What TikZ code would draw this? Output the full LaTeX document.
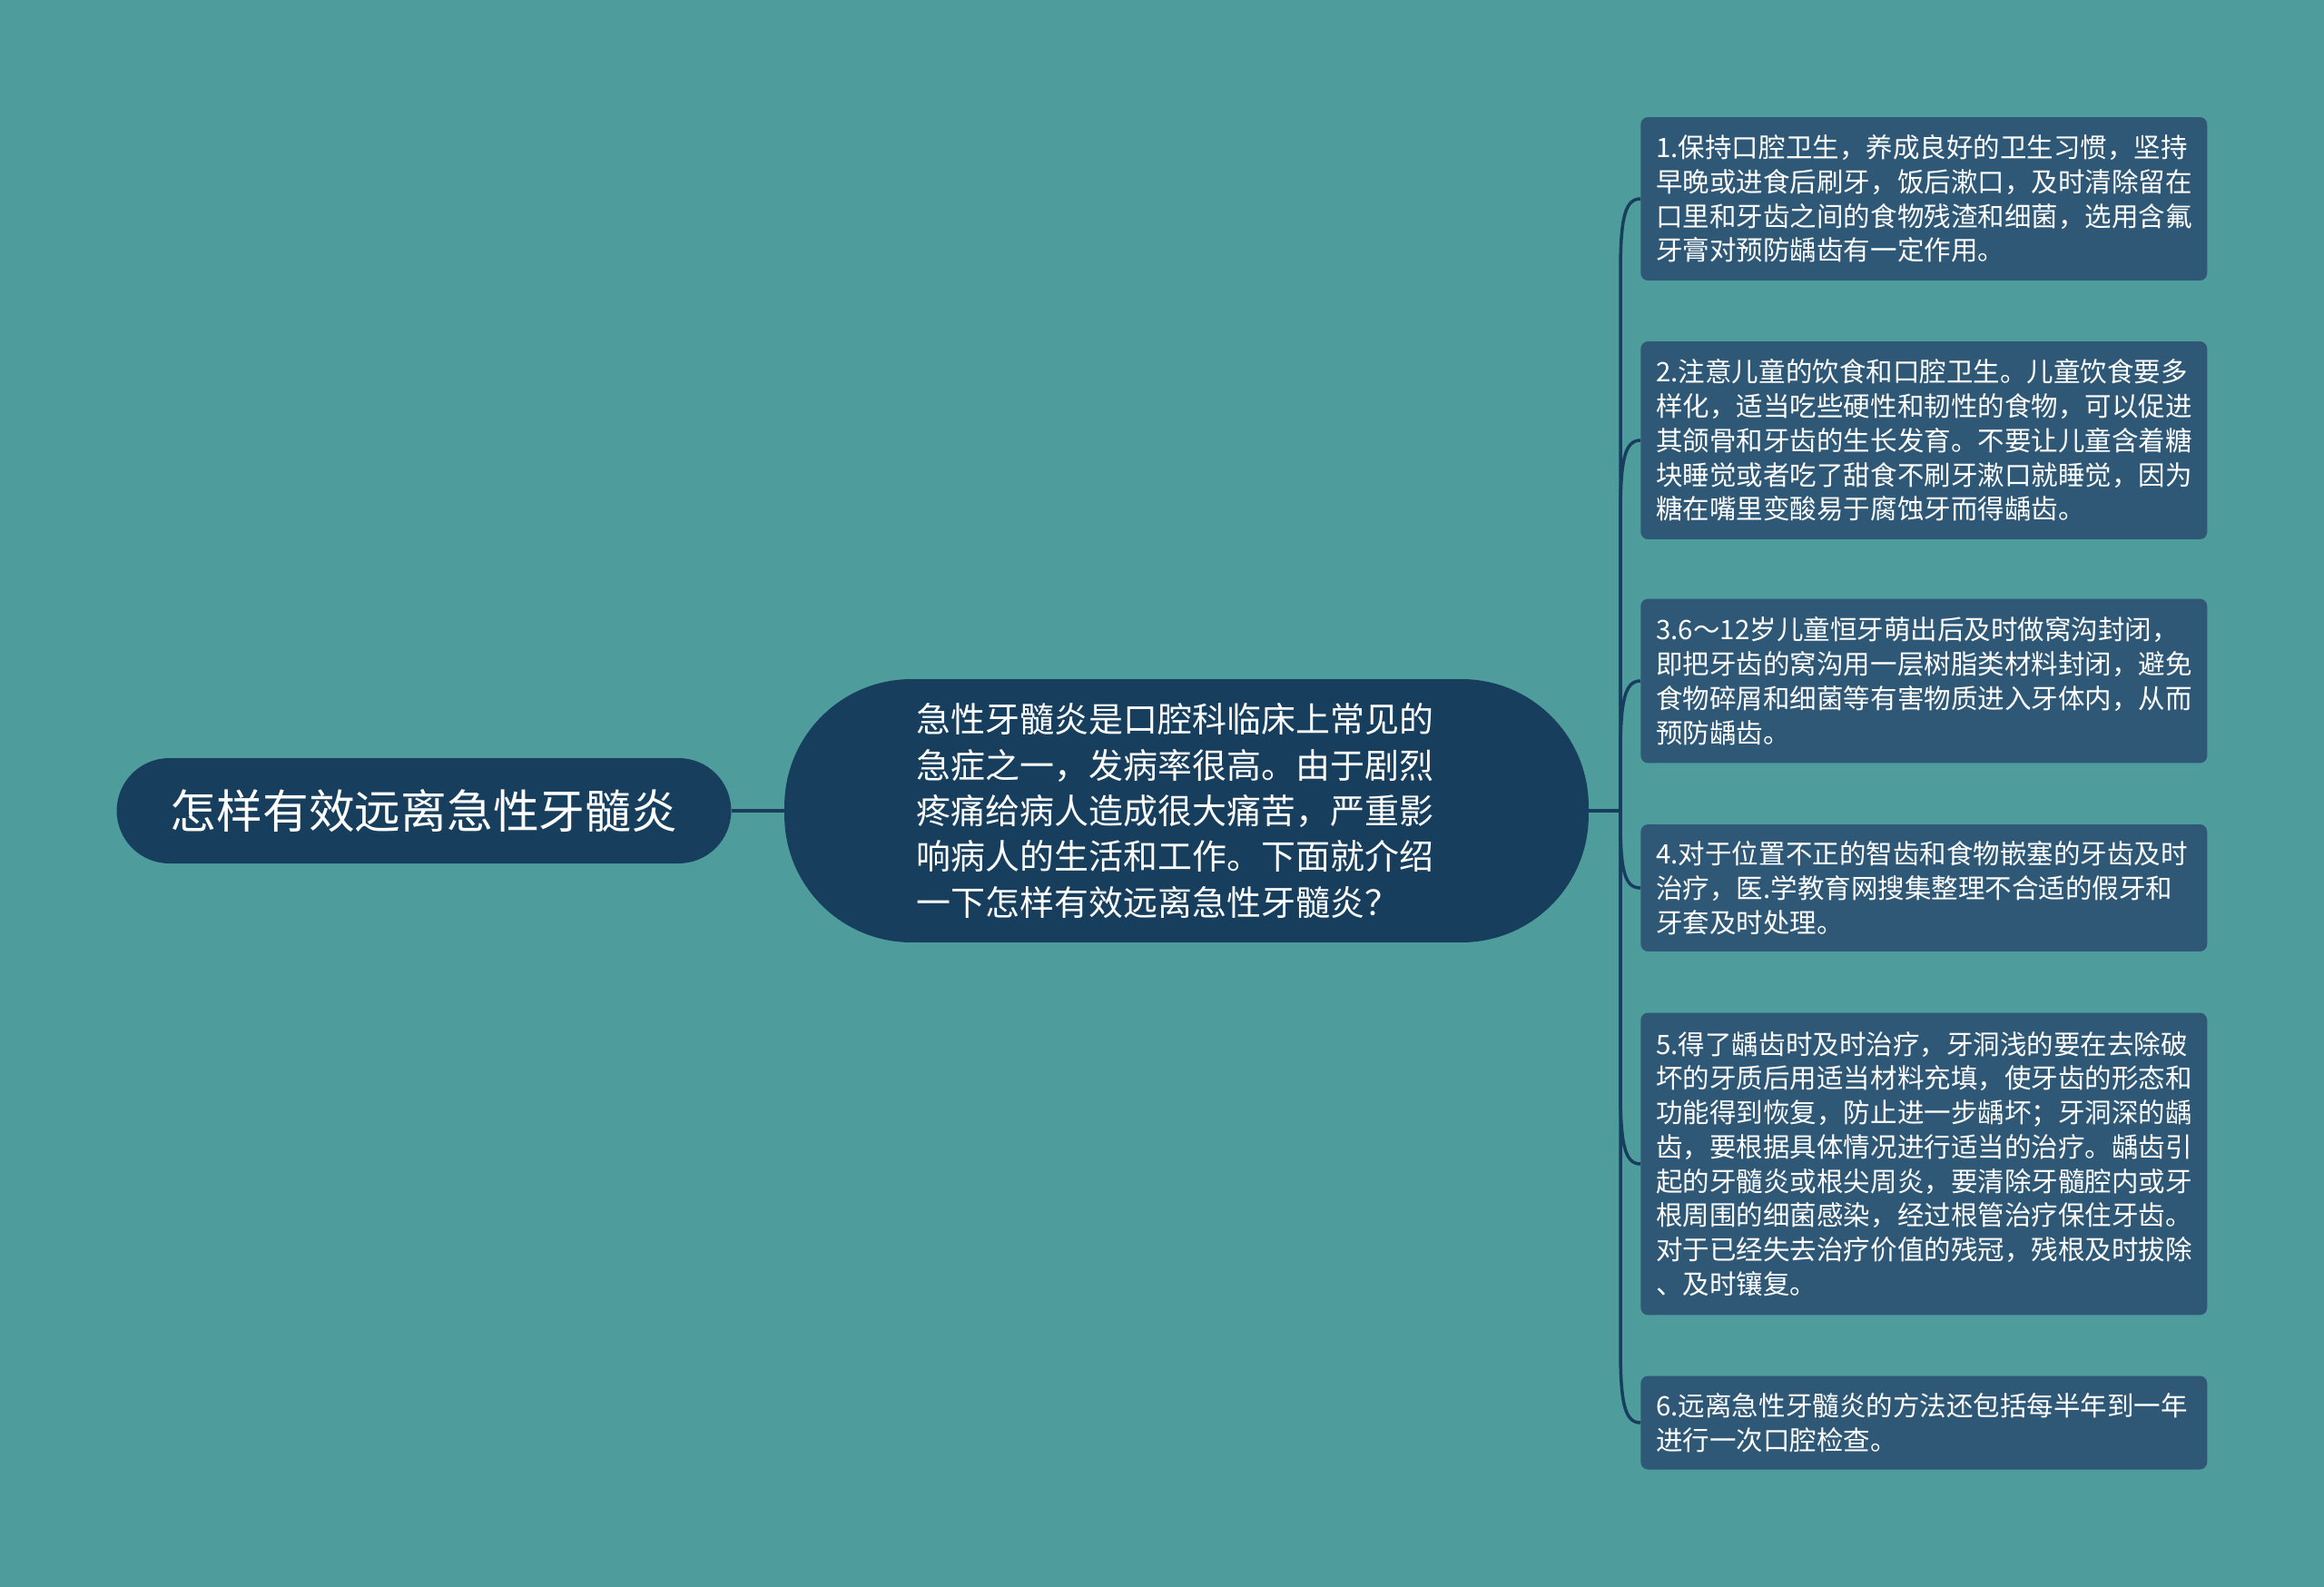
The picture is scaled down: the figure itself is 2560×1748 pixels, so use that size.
\documentclass[tikz,border=0pt]{standalone}
\usepackage{fontspec}
\setmainfont{Noto Sans CJK SC}
\definecolor{bgc}{HTML}{4E9D9C}
\definecolor{navy}{HTML}{173E5C}
\definecolor{boxc}{HTML}{2E5876}
\begin{document}
\begin{tikzpicture}[x=0.02cm,y=-0.02cm,
  leafbox/.style={fill=boxc, rounded corners=0.16cm, text=white, align=left,
    text width=11.8cm, inner xsep=0.34cm, inner ysep=0cm, anchor=west,
    font=\fontsize{16.8pt}{21.5pt}\selectfont},
  link/.style={draw=navy, line width=2pt},
]
\fill[bgc] (0,0) rectangle (2560,1748);
\useasboundingbox (0,0) rectangle (2560,1748);

\node[fill=navy, rounded corners=1.16cm, minimum width=13.54cm, minimum height=2.32cm,
  text=white, font=\fontsize{28.9pt}{34pt}\selectfont] (root) at (467,893) {怎样有效远离急性牙髓炎};

\node[fill=navy, rounded corners=2.8cm, minimum width=17.72cm, minimum height=5.8cm,
  text=white, align=left, font=\fontsize{21.6pt}{28.7pt}\selectfont] (mid) at (1307,893)
  {急性牙髓炎是口腔科临床上常见的\hspace*{0.5cm}\\急症之一，发病率很高。由于剧烈\\疼痛给病人造成很大痛苦，严重影\\响病人的生活和工作。下面就介绍\\一下怎样有效远离急性牙髓炎？};

\node[leafbox, minimum height=3.6cm] (b1) at (1807,219)
  {1.保持口腔卫生，养成良好的卫生习惯，坚持\\早晚或进食后刷牙，饭后漱口，及时清除留在\\口里和牙齿之间的食物残渣和细菌，选用含氟\\牙膏对预防龋齿有一定作用。};
\node[leafbox, minimum height=4.36cm] (b2) at (1807,485)
  {2.注意儿童的饮食和口腔卫生。儿童饮食要多\\样化，适当吃些硬性和韧性的食物，可以促进\\其颌骨和牙齿的生长发育。不要让儿童含着糖\\块睡觉或者吃了甜食不刷牙漱口就睡觉，因为\\糖在嘴里变酸易于腐蚀牙而得龋齿。};
\node[leafbox, minimum height=3.62cm] (b3) at (1807,750)
  {3.6～12岁儿童恒牙萌出后及时做窝沟封闭，\\即把牙齿的窝沟用一层树脂类材料封闭，避免\\食物碎屑和细菌等有害物质进入牙体内，从而\\预防龋齿。};
\node[leafbox, minimum height=2.8cm] (b4) at (1807,978)
  {4.对于位置不正的智齿和食物嵌塞的牙齿及时\\治疗，医.学教育网搜集整理不合适的假牙和\\牙套及时处理。};
\node[leafbox, minimum height=6.66cm] (b5) at (1807,1282)
  {5.得了龋齿时及时治疗，牙洞浅的要在去除破\\坏的牙质后用适当材料充填，使牙齿的形态和\\功能得到恢复，防止进一步龋坏；牙洞深的龋\\齿，要根据具体情况进行适当的治疗。龋齿引\\起的牙髓炎或根尖周炎，要清除牙髓腔内或牙\\根周围的细菌感染，经过根管治疗保住牙齿。\\对于已经失去治疗价值的残冠，残根及时拔除\\、及时镶复。};
\node[leafbox, minimum height=2.06cm] (b6) at (1807,1567)
  {6.远离急性牙髓炎的方法还包括每半年到一年\\进行一次口腔检查。};

\coordinate (hub) at (1785,893);
\draw[link] (root.east) -- (mid.west);
\draw[link] (mid.east) -- (hub);
\draw[link] (hub) -- (1785,300) .. controls (1785,240) and (1790,219) .. (b1.west);
\draw[link] (hub) -- (1785,566) .. controls (1785,506) and (1790,485) .. (b2.west);
\draw[link] (hub) -- (1785,831) .. controls (1785,771) and (1790,750) .. (b3.west);
\draw[link] (hub) -- (1785,905) .. controls (1785,960) and (1790,978) .. (b4.west);
\draw[link] (hub) -- (1785,1201) .. controls (1785,1261) and (1790,1282) .. (b5.west);
\draw[link] (hub) -- (1785,1486) .. controls (1785,1546) and (1790,1567) .. (b6.west);
\end{tikzpicture}
\end{document}
